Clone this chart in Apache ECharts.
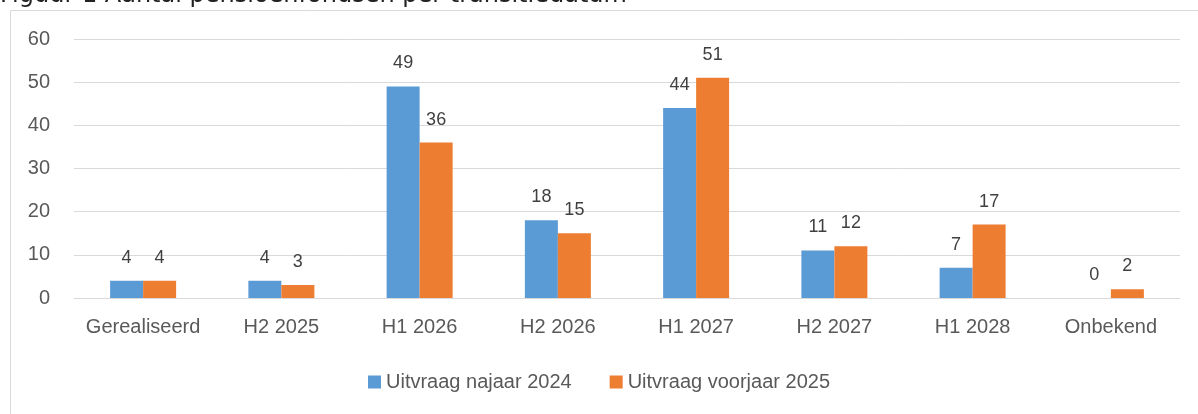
<!DOCTYPE html>
<html>
<head>
<meta charset="utf-8">
<script src="https://cdn.jsdelivr.net/npm/echarts@6/dist/echarts.min.js"></script>
<style>
  html, body { margin: 0; padding: 0; background: #fff; }
  #chart { width: 1198px; height: 414px; }
</style>
</head>
<body>
<div id="chart"></div>
<script>
const categories = ['Gerealiseerd', 'H2 2025', 'H1 2026', 'H2 2026', 'H1 2027', 'H2 2027', 'H1 2028', 'Onbekend'];
const najaar2024 = [4, 4, 49, 18, 44, 11, 7, 0];
const voorjaar2025 = [4, 3, 36, 15, 51, 12, 17, 2];
const seriesNames = ['Uitvraag najaar 2024', 'Uitvraag voorjaar 2025'];
const yTicks = { min: 0, max: 60, interval: 10 };

const chart = echarts.init(document.getElementById('chart'));

const labelStyle = {
  show: true,
  position: 'top',
  distance: 14,
  color: '#404040',
  fontSize: 18,
  fontFamily: 'Liberation Sans, Arial, sans-serif',
};

chart.setOption({
  animation: false,
  graphic: [
    {
      type: 'rect',
      shape: { x: 10.5, y: 10.5, width: 1200, height: 420 },
      style: { fill: 'none', stroke: '#d9d9d9', lineWidth: 1 },
      silent: true,
    },
    {
      type: 'text',
      left: 0,
      top: -16,
      style: {
        text: 'Figuur 1 Aantal pensioenfondsen per transitiedatum',
        fontSize: 24,
        fontFamily: 'DejaVu Sans, sans-serif',
        fill: '#222',
      },
    },
  ],
  grid: { left: 74, right: 18, top: 39, bottom: 116 },
  legend: {
    data: seriesNames,
    top: 367,
    left: 'center',
    itemWidth: 13,
    itemHeight: 13,
    itemGap: 38,
    icon: 'rect',
    textStyle: { color: '#595959', fontSize: 20, fontFamily: 'Liberation Sans, sans-serif' },
  },
  xAxis: {
    type: 'category',
    data: categories,
    axisLine: { lineStyle: { color: '#d9d9d9', width: 1 } },
    axisTick: { show: false },
    axisLabel: { interval: 0, color: '#595959', fontSize: 20, margin: 19, fontFamily: 'Liberation Sans, Arial, sans-serif' },
  },
  yAxis: {
    type: 'value',
    min: yTicks.min,
    max: yTicks.max,
    interval: yTicks.interval,
    axisLine: { show: false },
    axisTick: { show: false },
    splitLine: { lineStyle: { color: '#d9d9d9', width: 1 } },
    axisLabel: { color: '#595959', fontSize: 20, margin: 24, fontFamily: 'Liberation Sans, Arial, sans-serif' },
  },
  series: [
    {
      name: seriesNames[0],
      type: 'bar',
      data: najaar2024,
      barWidth: 33,
      barGap: '0%',
      itemStyle: { color: '#5b9bd5' },
      label: labelStyle,
    },
    {
      name: seriesNames[1],
      type: 'bar',
      data: voorjaar2025,
      barWidth: 33,
      barGap: '0%',
      itemStyle: { color: '#ed7d31' },
      label: labelStyle,
    },
  ],
});
</script>
</body>
</html>
